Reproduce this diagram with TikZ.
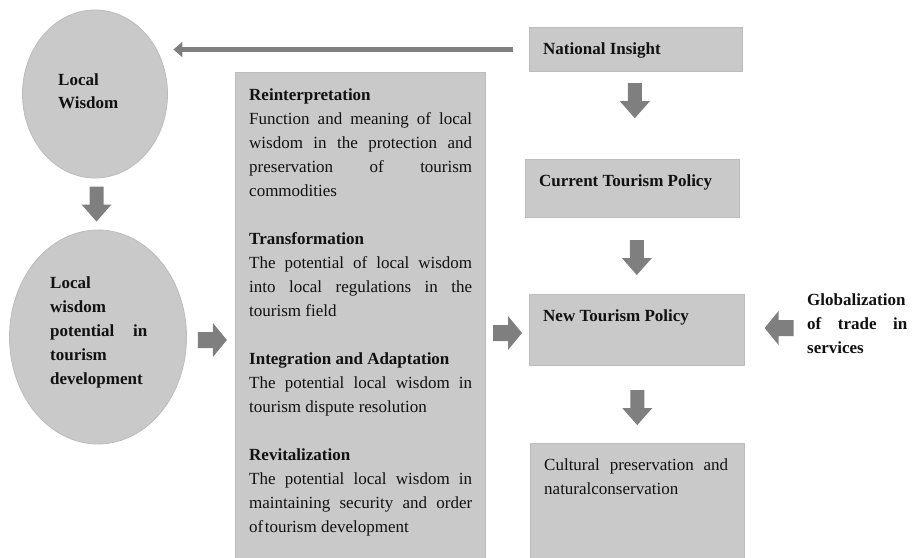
\documentclass[tikz,border=0pt]{standalone}
\usepackage{fontspec}
\setmainfont{Liberation Serif}
\usetikzlibrary{shapes.geometric,calc,arrows.meta}

\definecolor{boxfill}{HTML}{C9C9C9}
\definecolor{boxline}{HTML}{BCBCBC}
\definecolor{arrowfill}{HTML}{7F7F7F}
\definecolor{ink}{HTML}{111111}

% a line of text stretched to a given width (justified line)
\newcommand\jline[2]{\makebox[#1][s]{#2}}

% text nodes are placed by the baseline of their last line
\tikzset{
  panel/.style={rectangle, draw=boxline, fill=boxfill, line width=1pt, inner sep=0pt, anchor=north west},
  bubble/.style={ellipse, draw=boxline, fill=boxfill, line width=0.8pt, inner sep=0pt},
  txt/.style={font=\fontsize{17}{24}\selectfont, text=ink, inner sep=0pt, align=left, anchor=base west},
  hd/.style={txt, font=\fontsize{17}{24}\selectfont\bfseries},
  longarrow/.style={draw=arrowfill, line width=5pt, -{Triangle[width=15pt,length=9pt]}},
  pics/downblock/.style={code={
    \fill[arrowfill] (-7,-17.5) -- (7,-17.5) -- (7,0.5) -- (15,0.5) -- (0,17.5) -- (-15,0.5) -- (-7,0.5) -- cycle;}},
  pics/rightblock/.style={code={
    \fill[arrowfill] (-14.5,-8) -- (0.5,-8) -- (0.5,-17) -- (14.5,0) -- (0.5,17) -- (0.5,8) -- (-14.5,8) -- cycle;}},
}

\begin{document}
\begin{tikzpicture}[x=1pt, y=-1pt]
\useasboundingbox (0,0) rectangle (913,557);

% left column: the two circles
\node[bubble, minimum width=145pt, minimum height=168pt] (lw) at (95,94) {};
\node[hd] (lwt) at (58,108) {Local\\[-1pt]Wisdom};
\node[bubble, minimum width=177pt, minimum height=214pt] (lwp) at (98,337) {};
\node[hd] (lwpt) at (50,384) {Local\\wisdom\\\jline{97pt}{potential in}\\tourism\\development};

% middle column: the four strategies
\node[panel, minimum width=250pt, minimum height=490pt] (mid) at (235,72) {};
\node[txt] (midt) at (249,532) {%
  \textbf{Reinterpretation}\\
  \jline{223pt}{Function and meaning of local}\\
  \jline{223pt}{wisdom in the protection and}\\
  \jline{223pt}{preservation of tourism}\\
  commodities\\[24pt]
  \textbf{Transformation}\\
  \jline{223pt}{The potential of local wisdom}\\
  \jline{223pt}{into local regulations in the}\\
  tourism field\\[24pt]
  \textbf{Integration and Adaptation}\\
  \jline{223pt}{The potential local wisdom in}\\
  tourism dispute resolution\\[24pt]
  \textbf{Revitalization}\\
  \jline{223pt}{The potential local wisdom in}\\
  \jline{223pt}{maintaining security and order}\\
  of\hspace{1.5pt}tourism development};

% right column: policy chain
\node[panel, minimum width=213pt, minimum height=44pt] (ni) at (529,27) {};
\node[hd] (nit) at (543,54) {National Insight};
\node[panel, minimum width=214pt, minimum height=58pt] (ctp) at (525,159) {};
\node[hd] (ctpt) at (539,186) {Current Tourism Policy};
\node[panel, minimum width=215pt, minimum height=71pt] (ntp) at (529,294) {};
\node[hd] (ntpt) at (543,321) {New Tourism Policy};
\node[panel, minimum width=214pt, minimum height=120pt] (cp) at (530,443) {};
\node[txt] (cpt) at (544,494) {\jline{184pt}{Cultural preservation and}\\naturalconservation};

% external factor
\node[hd] (gt) at (807,353) {Globalization\\\jline{100pt}{of trade in}\\services};

% connectors
\draw[longarrow, shorten <=16pt, shorten >=5.5pt] (ni.west) -- (lw.east |- ni.west);
\pic at ($(lw.south)!0.5!(lwp.north)$) {downblock};
\pic at ($(ni.south)!0.33!(ctp.north)$) {downblock};
\pic at ($(ctp.south)!0.52!(ntp.north)+(2,0)$) {downblock};
\pic at ($(ntp.south)!0.54!(cp.north)$) {downblock};
\pic at ($(lwp.east)!0.53!(mid.west |- lwp.east)+(0,3)$) {rightblock};
\pic at ($(mid.east |- ntp.west)!0.5!(ntp.west)+(0,3)$) {rightblock};
\pic[rotate=180] at ($(ntp.east)!0.55!(gt.west |- ntp.east)+(0,-2)$) {rightblock};
\end{tikzpicture}
\end{document}
